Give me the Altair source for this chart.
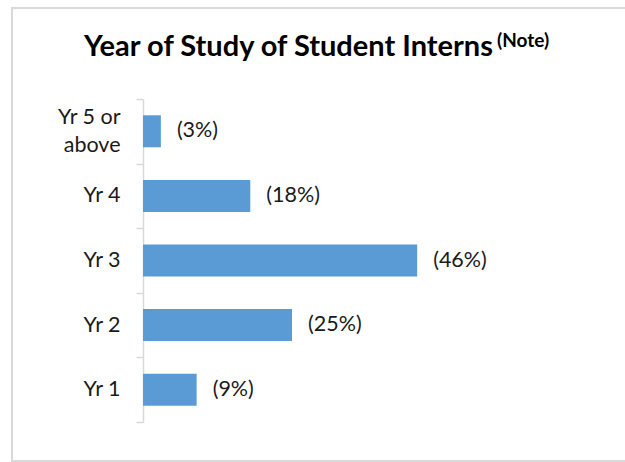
import altair as alt
import pandas as pd

categories = ["Yr 5 or above", "Yr 4", "Yr 3", "Yr 2", "Yr 1"]
percents = [3, 18, 46, 25, 9]
labels = ["(3%)", "(18%)", "(46%)", "(25%)", "(9%)"]

df = pd.DataFrame({"year": categories, "pct": percents, "label": labels})

FONT = "Lato"
TXT = "#1a1a1a"
GRID = "#d9d9d9"
LBL = 21.5

y_enc = alt.Y(
    "year:N",
    sort=categories,
    scale=alt.Scale(paddingInner=0, paddingOuter=0),
    axis=alt.Axis(
        title=None,
        tickBand="extent",
        labelExpr="datum.value == 'Yr 5 or above' ? ['Yr 5 or', 'above'] : datum.value",
        labelFont=FONT,
        labelFontSize=LBL,
        labelColor=TXT,
        labelPadding=16,
        labelLineHeight=28,
        labelAlign="right",
        labelBaseline="middle",
        labelOffset={"condition": {"test": "datum.value == 'Yr 5 or above'", "value": -14}, "value": 0},
        tickSize=7,
        tickColor=GRID,
        tickWidth=1.5,
        domainColor=GRID,
        domainWidth=1.5,
    ),
)
x_enc = alt.X("pct:Q", scale=alt.Scale(domain=[0, 50]), axis=None)

bars = alt.Chart(df).mark_bar(size=32, color="#5B9BD5").encode(x=x_enc, y=y_enc)
texts = alt.Chart(df).mark_text(
    align="left", baseline="middle", dx=16, font=FONT, fontSize=LBL, color=TXT
).encode(x=x_enc, y=alt.Y("year:N", sort=categories), text="label:N")

one = alt.Data(values=[{}])
frame = alt.Chart(one).mark_rect(fill=None, stroke=GRID, strokeWidth=2).encode(
    x=alt.value(-131), x2=alt.value(490), y=alt.value(-91), y2=alt.value(362)
)
title_main = alt.Chart(one).mark_text(
    text="Year of Study of Student Interns", font=FONT, fontSize=29, fontWeight="bold",
    align="center", baseline="alphabetic", color="#000000"
).encode(x=alt.value(145.5), y=alt.value(-43))
title_note = alt.Chart(one).mark_text(
    text="(Note)", font=FONT, fontSize=19, fontWeight="bold",
    align="left", baseline="alphabetic", color="#000000"
).encode(x=alt.value(354), y=alt.value(-52))

chart = alt.layer(frame, bars, texts, title_main, title_note).properties(
    width=298, height=323,
    autosize=alt.AutoSizeParams(type="none"),
    padding={"left": 143, "top": 99, "right": 184, "bottom": 40},
).configure_view(stroke=None)

chart.save("out.html", embed_options={"renderer": "svg", "actions": False})
